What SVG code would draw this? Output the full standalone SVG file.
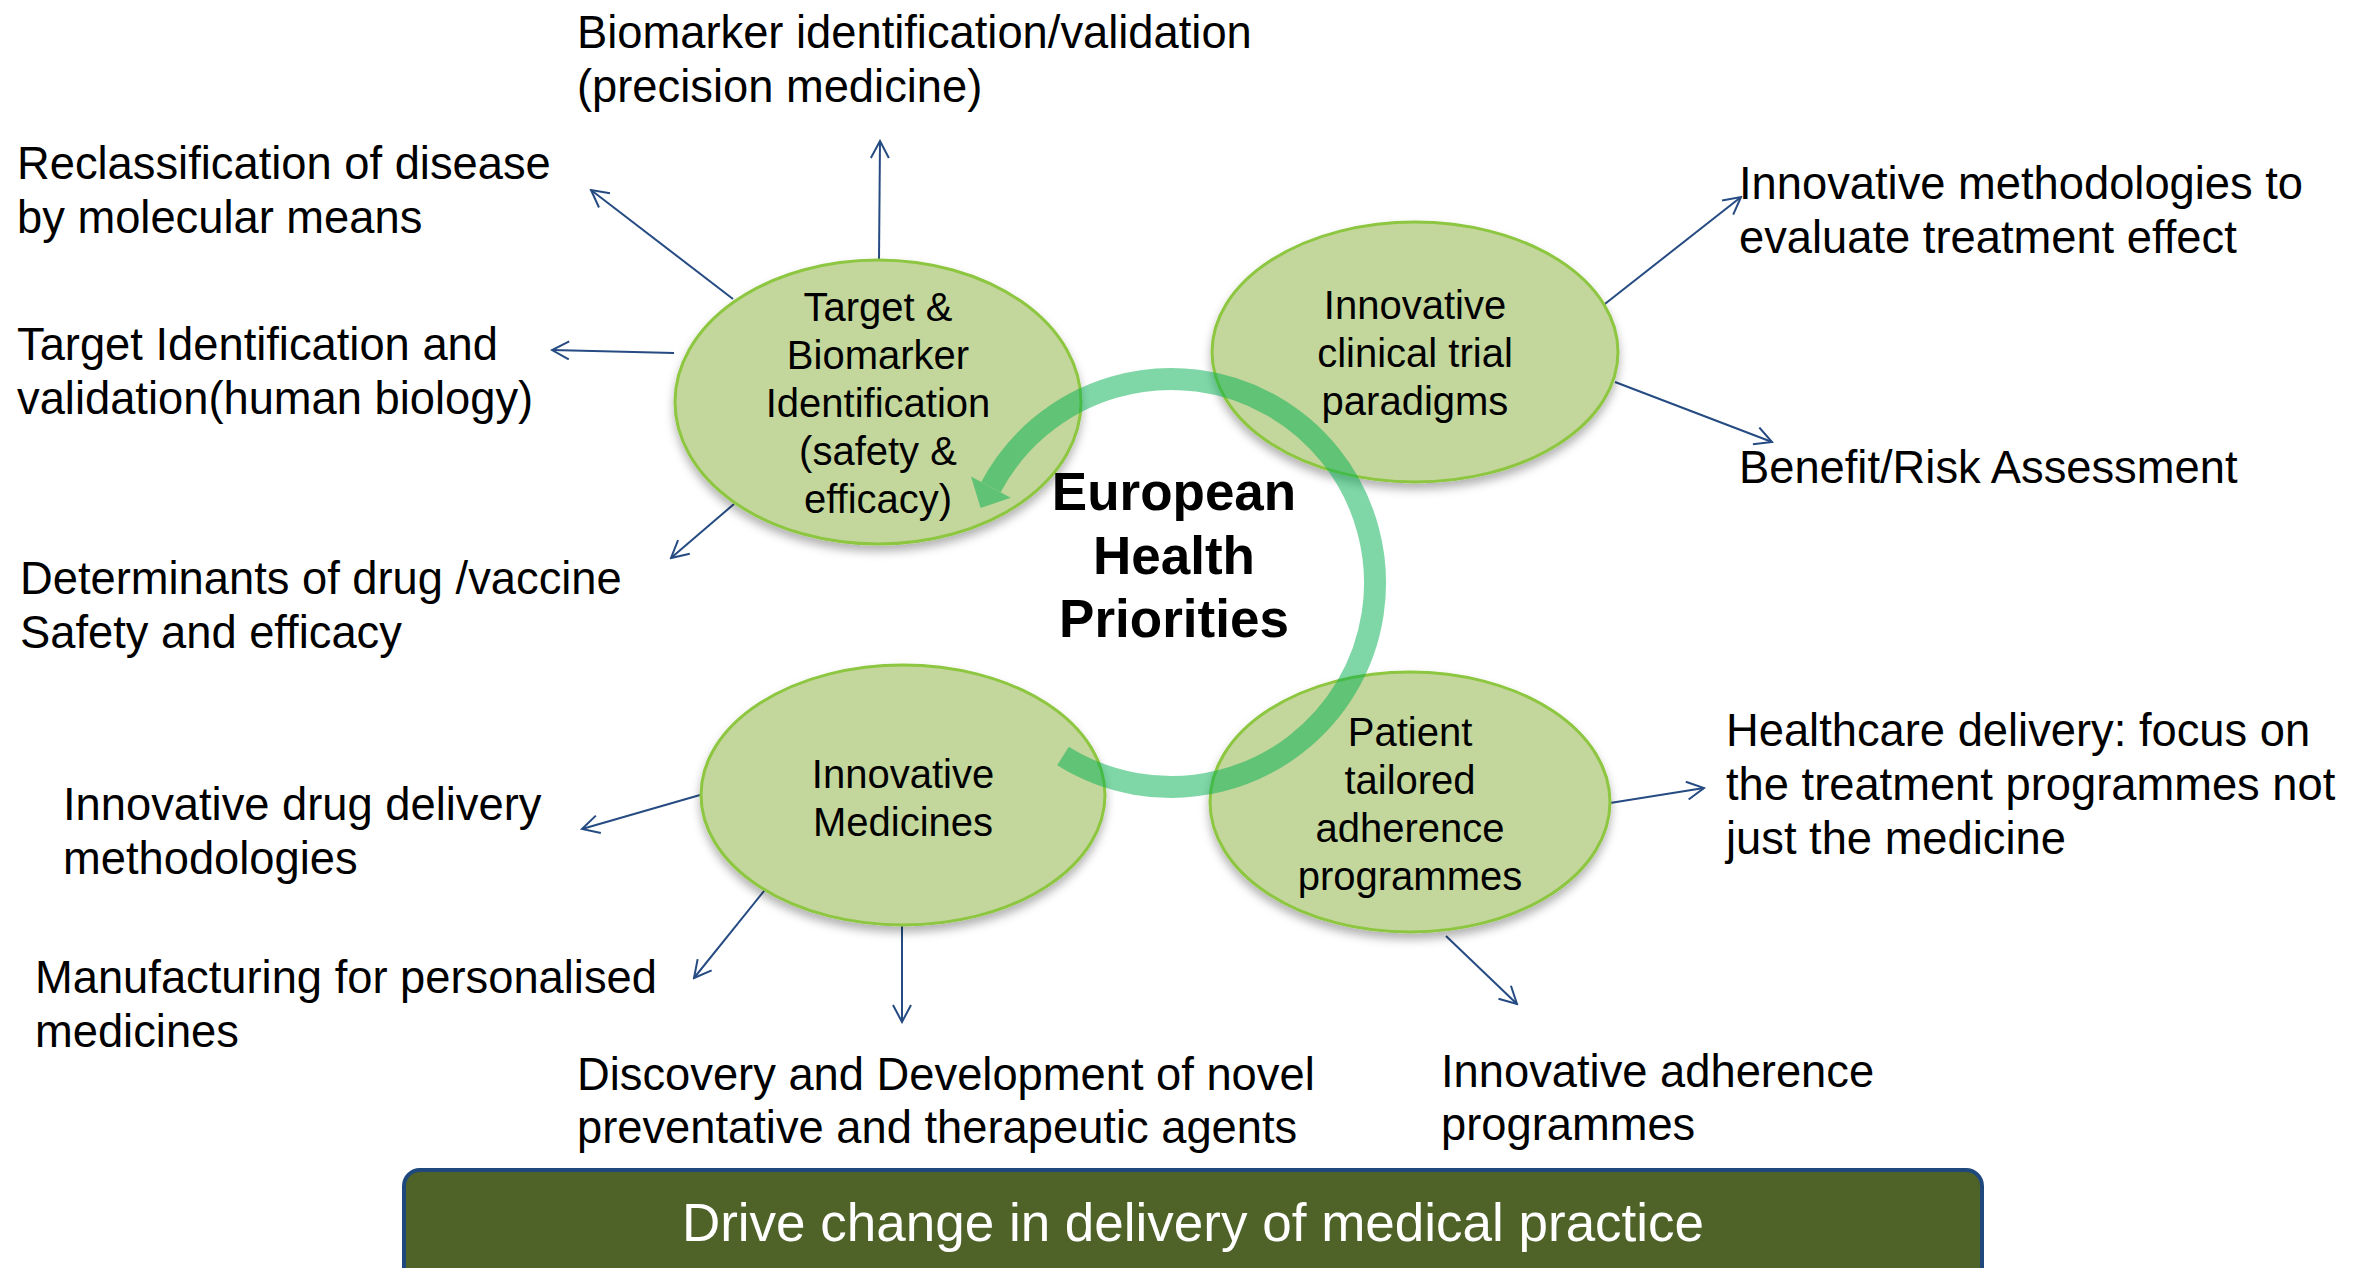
<svg xmlns="http://www.w3.org/2000/svg" width="2370" height="1268" viewBox="0 0 2370 1268">
<defs>
<style>
.lbl{font-family:"Liberation Sans",Arial,sans-serif;font-size:45.3px;fill:#000}
.nt{font-family:"Liberation Sans",Arial,sans-serif;font-size:40px;fill:#000;text-anchor:middle}
.node{fill:#c3d69b;stroke:#8dc63f;stroke-width:3}
.conn{stroke:#254b82;stroke-width:2;fill:none}
</style>
<filter id="sh" x="-10%" y="-10%" width="120%" height="130%">
<feDropShadow dx="0" dy="6" stdDeviation="5" flood-color="#000" flood-opacity="0.3"/>
</filter>
<marker id="ah" viewBox="0 0 20 20" refX="18" refY="10" markerWidth="20" markerHeight="20" markerUnits="userSpaceOnUse" orient="auto">
<path d="M1,1 L18,10 L1,19" fill="none" stroke="#254b82" stroke-width="2"/>
</marker>
</defs>
<rect x="0" y="0" width="2370" height="1268" fill="#ffffff"/>

<g id="connectors">
<line class="conn" x1="879" y1="260" x2="880" y2="141" marker-end="url(#ah)"/>
<line class="conn" x1="733" y1="299" x2="591" y2="190" marker-end="url(#ah)"/>
<line class="conn" x1="674" y1="353" x2="552" y2="350" marker-end="url(#ah)"/>
<line class="conn" x1="734" y1="504" x2="671" y2="558" marker-end="url(#ah)"/>
<line class="conn" x1="1601" y1="307" x2="1741" y2="197" marker-end="url(#ah)"/>
<line class="conn" x1="1615" y1="382" x2="1772" y2="442" marker-end="url(#ah)"/>
<line class="conn" x1="1610" y1="803" x2="1704" y2="788" marker-end="url(#ah)"/>
<line class="conn" x1="1446" y1="936" x2="1517" y2="1004" marker-end="url(#ah)"/>
<line class="conn" x1="700" y1="795" x2="582" y2="829" marker-end="url(#ah)"/>
<line class="conn" x1="768" y1="886" x2="694" y2="978" marker-end="url(#ah)"/>
<line class="conn" x1="902" y1="925" x2="902" y2="1022" marker-end="url(#ah)"/>
</g>

<g id="node-target">
<ellipse class="node" cx="878" cy="402" rx="203" ry="142" filter="url(#sh)"/>
<text class="nt" x="878" y="321">Target &amp;</text>
<text class="nt" x="878" y="369">Biomarker</text>
<text class="nt" x="878" y="417">Identification</text>
<text class="nt" x="878" y="465">(safety &amp;</text>
<text class="nt" x="878" y="513">efficacy)</text>
</g>

<g id="node-clinical">
<ellipse class="node" cx="1415" cy="352" rx="203" ry="130" filter="url(#sh)"/>
<text class="nt" x="1415" y="319">Innovative</text>
<text class="nt" x="1415" y="367">clinical trial</text>
<text class="nt" x="1415" y="415">paradigms</text>
</g>

<g id="node-medicines">
<ellipse class="node" cx="903" cy="795" rx="202" ry="130" filter="url(#sh)"/>
<text class="nt" x="903" y="788">Innovative</text>
<text class="nt" x="903" y="836">Medicines</text>
</g>

<g id="node-patient">
<ellipse class="node" cx="1410" cy="802" rx="200" ry="130" filter="url(#sh)"/>
<text class="nt" x="1410" y="746">Patient</text>
<text class="nt" x="1410" y="794">tailored</text>
<text class="nt" x="1410" y="842">adherence</text>
<text class="nt" x="1410" y="890">programmes</text>
</g>

<g id="cycle-arrow" opacity="0.5">
<path d="M1063,756 A204,204 0 1 0 990.9,487.2" fill="none" stroke="#00b050" stroke-width="22"/>
<polygon points="971,476.6 1010.8,497.8 980.6,508" fill="#00b050"/>
</g>

<g id="node-center">
<text x="1174" y="510" font-family="'Liberation Sans',Arial,sans-serif" font-size="53" font-weight="bold" text-anchor="middle">European</text>
<text x="1174" y="574" font-family="'Liberation Sans',Arial,sans-serif" font-size="53" font-weight="bold" text-anchor="middle">Health</text>
<text x="1174" y="637" font-family="'Liberation Sans',Arial,sans-serif" font-size="53" font-weight="bold" text-anchor="middle">Priorities</text>
</g>

<g id="label-biomarker">
<text class="lbl" x="577" y="48">Biomarker identification/validation</text>
<text class="lbl" x="577" y="102">(precision medicine)</text>
</g>
<g id="label-reclass">
<text class="lbl" x="17" y="179">Reclassification of disease</text>
<text class="lbl" x="17" y="233">by molecular means</text>
</g>
<g id="label-target">
<text class="lbl" x="17" y="360">Target Identification and</text>
<text class="lbl" x="17" y="414">validation(human biology)</text>
</g>
<g id="label-determinants">
<text class="lbl" x="20" y="594">Determinants of drug /vaccine</text>
<text class="lbl" x="20" y="648">Safety and efficacy</text>
</g>
<g id="label-methodologies">
<text class="lbl" x="1739" y="199">Innovative methodologies to</text>
<text class="lbl" x="1739" y="253">evaluate treatment effect</text>
</g>
<g id="label-benefit">
<text class="lbl" x="1739" y="483">Benefit/Risk Assessment</text>
</g>
<g id="label-healthcare">
<text class="lbl" x="1726" y="746">Healthcare delivery: focus on</text>
<text class="lbl" x="1726" y="800">the treatment programmes not</text>
<text class="lbl" x="1726" y="854">just the medicine</text>
</g>
<g id="label-adherence">
<text class="lbl" x="1441" y="1087">Innovative adherence</text>
<text class="lbl" x="1441" y="1140">programmes</text>
</g>
<g id="label-drugdelivery">
<text class="lbl" x="63" y="820">Innovative drug delivery</text>
<text class="lbl" x="63" y="874">methodologies</text>
</g>
<g id="label-manufacturing">
<text class="lbl" x="35" y="993">Manufacturing for personalised</text>
<text class="lbl" x="35" y="1047">medicines</text>
</g>
<g id="label-discovery">
<text class="lbl" x="577" y="1090">Discovery and Development of novel</text>
<text class="lbl" x="577" y="1143">preventative and therapeutic agents</text>
</g>

<g id="bottom-bar">
<rect x="404" y="1170" width="1578" height="130" rx="16" ry="16" fill="#4f6228" stroke="#1f497d" stroke-width="4"/>
<text x="1193" y="1241" font-family="'Liberation Sans',Arial,sans-serif" font-size="53" fill="#ffffff" text-anchor="middle">Drive change in delivery of medical practice</text>
</g>
</svg>
